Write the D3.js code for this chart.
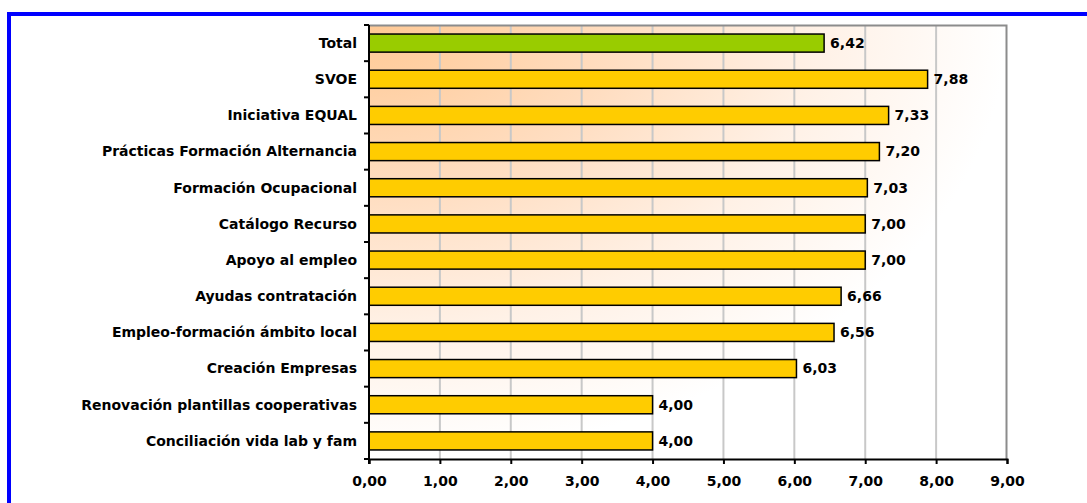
<!DOCTYPE html>
<html>
<head>
<meta charset="utf-8">
<script src="https://cdn.jsdelivr.net/npm/d3@7"></script>
<style>
  body { margin: 0; background: #fff; }
  svg text { font-family: "DejaVu Sans", Verdana, sans-serif; font-weight: bold; fill: #000; }
</style>
</head>
<body>
<div id="chart"></div>
<script>
// data
var categories = ["Total", "SVOE", "Iniciativa EQUAL", "Prácticas Formación Alternancia",
    "Formación Ocupacional", "Catálogo Recurso", "Apoyo al empleo", "Ayudas contratación",
    "Empleo-formación ámbito local", "Creación Empresas", "Renovación plantillas cooperativas",
    "Conciliación vida lab y fam"];
var values = [6.42, 7.88, 7.33, 7.20, 7.03, 7.00, 7.00, 6.66, 6.56, 6.03, 4.00, 4.00];
var xTicks = [0, 1, 2, 3, 4, 5, 6, 7, 8, 9];

var W = 1087, H = 503;
var margin = { top: 25, right: 80, bottom: 44, left: 369 };
var width = 1007 - margin.left,
    height = 459 - margin.top;

var svg = d3.select("#chart").append("svg")
    .attr("width", W).attr("height", H);

// blue frame (runs off the right and bottom edge)
svg.append("rect")
    .attr("x", 9).attr("y", 14)
    .attr("width", W + 20).attr("height", H + 20)
    .attr("fill", "none").attr("stroke", "#0000ff").attr("stroke-width", 4);

// background fades from the top left corner
var defs = svg.append("defs");
var grad = defs.append("radialGradient").attr("id", "bg")
    .attr("cx", "0").attr("cy", "0").attr("r", "1")
    .attr("fx", "0").attr("fy", "0");
grad.append("stop").attr("offset", "0%").attr("stop-color", "#ffc995");
grad.append("stop").attr("offset", "40%").attr("stop-color", "#ffdec2");
grad.append("stop").attr("offset", "70%").attr("stop-color", "#fff1e6");
grad.append("stop").attr("offset", "100%").attr("stop-color", "#ffffff");

var g = svg.append("g").attr("transform", "translate(" + margin.left + "," + margin.top + ")");

var x = d3.scaleLinear().domain([0, 9]).range([0, width]);
var y = d3.scaleBand().domain(categories).range([0, height]).paddingInner(0.5).paddingOuter(0.25);

// plot background
g.append("rect")
    .attr("width", width).attr("height", height)
    .attr("fill", "url(#bg)");

// gridlines
g.append("g").selectAll("line")
    .data(xTicks.slice(1, -1))
    .enter().append("line")
    .attr("x1", function(d) { return x(d); })
    .attr("x2", function(d) { return x(d); })
    .attr("y1", 0).attr("y2", height)
    .attr("stroke", "#c8c8c8").attr("stroke-width", 2);

// plot border top / right
g.append("path")
    .attr("d", "M0,0.5H" + (width - 0.5) + "V" + height)
    .attr("fill", "none").attr("stroke", "#8c8c8c").attr("stroke-width", 2);

// bars
g.append("g").selectAll("rect")
    .data(values)
    .enter().append("rect")
    .attr("x", x(0))
    .attr("y", function(d, i) { return y(categories[i]); })
    .attr("width", function(d) { return x(d) - x(0); })
    .attr("height", y.bandwidth())
    .attr("fill", function(d, i) { return i === 0 ? "#99cc00" : "#ffcc00"; })
    .attr("stroke", "#000").attr("stroke-width", 1.5);

// value labels
g.append("g").selectAll("text")
    .data(values)
    .enter().append("text")
    .attr("x", function(d) { return x(d) + 6; })
    .attr("y", function(d, i) { return y(categories[i]) + y.bandwidth() / 2; })
    .attr("dy", "0.35em")
    .style("font-size", "14px")
    .text(function(d) { return d.toFixed(2).replace(".", ","); });

// x axis
var xAxis = g.append("g")
    .attr("transform", "translate(0," + height + ")")
    .call(d3.axisBottom(x).tickValues(xTicks).tickSize(5).tickPadding(12)
        .tickFormat(function(d) { return d.toFixed(2).replace(".", ","); }));
xAxis.select(".domain").attr("stroke-width", 2);
xAxis.selectAll(".tick line").attr("stroke-width", 2);
xAxis.selectAll("text").style("font-size", "14px").style("font-family", null);

// y axis with ticks between the bars
var yAxis = g.append("g");
yAxis.append("line")
    .attr("x1", 0).attr("x2", 0).attr("y1", 0).attr("y2", height + 5)
    .attr("stroke", "#000").attr("stroke-width", 2);
yAxis.selectAll("line.tk")
    .data(d3.range(categories.length + 1))
    .enter().append("line").attr("class", "tk")
    .attr("x1", -5).attr("x2", 0)
    .attr("y1", function(i) { return i * height / categories.length; })
    .attr("y2", function(i) { return i * height / categories.length; })
    .attr("stroke", "#000").attr("stroke-width", 2);
yAxis.selectAll("text")
    .data(categories)
    .enter().append("text")
    .attr("x", -12)
    .attr("y", function(d) { return y(d) + y.bandwidth() / 2; })
    .attr("dy", "0.35em")
    .attr("text-anchor", "end")
    .style("font-size", "14px")
    .text(function(d) { return d; });
</script>
</body>
</html>
